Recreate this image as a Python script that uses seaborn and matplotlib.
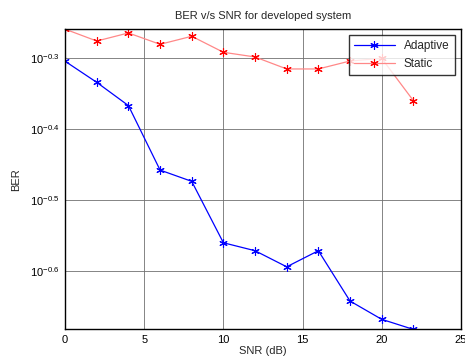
import math
import matplotlib
matplotlib.use("Agg")
import matplotlib.pyplot as plt
import seaborn as sns
import pandas as pd
from matplotlib.ticker import FixedLocator, FuncFormatter, NullLocator

snr = [0, 2, 4, 6, 8, 10, 12, 14, 16, 18, 20, 22]
ber_adaptive = [0.4953, 0.4626, 0.4291, 0.3483, 0.3358, 0.2753, 0.2683, 0.2547, 0.2683, 0.2280, 0.2149, 0.2080]
ber_static = [0.5495, 0.5288, 0.5428, 0.5232, 0.5370, 0.5099, 0.5022, 0.4831, 0.4831, 0.4957, 0.5000, 0.4361]
ytick_exp = [-0.6, -0.5, -0.4, -0.3]

sns.set_theme(style="white")
plt.rcParams['font.family'] = ['Liberation Sans', 'DejaVu Sans']
plt.rcParams['mathtext.fontset'] = 'custom'
plt.rcParams['mathtext.rm'] = 'Liberation Sans'
plt.rcParams['mathtext.it'] = 'Liberation Sans'

df = pd.DataFrame({"SNR": snr, "Adaptive": ber_adaptive, "Static": ber_static})

fig = plt.figure(figsize=(4.65, 3.6), dpi=100)
ax = fig.add_axes([0.14, 0.085, 0.851, 0.834])

star = (6, 2, 0)
sns.lineplot(data=df, x="SNR", y="Adaptive", ax=ax, color="#0000ff", lw=0.9,
             marker=star, markersize=6, markeredgecolor="#0000ff", markeredgewidth=0.8,
             label="Adaptive")
sns.lineplot(data=df, x="SNR", y="Static", ax=ax, color="#ff8888", lw=0.9,
             marker=star, markersize=6, markeredgecolor="#ff0000", markerfacecolor="#ff0000",
             markeredgewidth=0.8, label="Static")

ax.set_yscale("log")
ax.set_xlim(0, 25)
ax.set_ylim(min(ber_adaptive), max(ber_static))
ax.set_xticks([0, 5, 10, 15, 20, 25])
ax.yaxis.set_major_locator(FixedLocator([10 ** e for e in ytick_exp]))
ax.yaxis.set_minor_locator(NullLocator())
ax.yaxis.set_major_formatter(FuncFormatter(lambda v, p: r"$10^{%.1f}$" % math.log10(v)))

ax.grid(True, color="#707070", lw=0.6, ls="-")
for s in ax.spines.values():
    s.set_color("black")
    s.set_linewidth(1.0)
ax.tick_params(direction="in", length=3, labelsize=8, colors="black", pad=4)

ax.set_title("BER v/s SNR for developed system", fontsize=8, pad=7)
ax.set_xlabel("SNR (dB)", fontsize=8, labelpad=1)
ax.set_ylabel("BER", fontsize=8, labelpad=6)

leg = ax.legend(loc="upper right", fontsize=8.5, frameon=True, fancybox=False,
                edgecolor="black", borderaxespad=0.5, handlelength=3.4,
                borderpad=0.45, labelspacing=0.45)
leg.get_frame().set_linewidth(1.0)

fig.savefig("out.png", dpi=100)
